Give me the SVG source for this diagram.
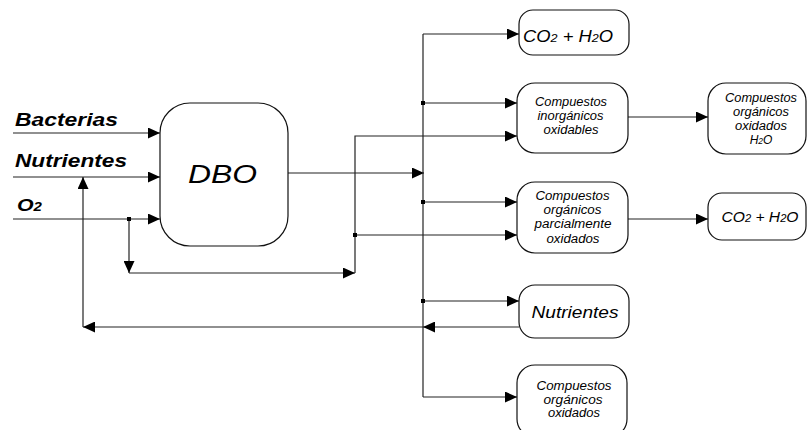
<svg xmlns="http://www.w3.org/2000/svg" width="807" height="430" viewBox="0 0 807 430">
  <style>
    .box { fill: #fff; stroke: #111; stroke-width: 1.2; }
    .ln { fill: none; stroke: #222; stroke-width: 1.2; }
    .arr { marker-end: url(#tip); }
    .t { font-family: "Liberation Sans", Arial, sans-serif; font-style: italic; fill: #000; text-anchor: middle; }
    .s { font-size: 12px; }
    .m { font-size: 16px; }
    .in { font-family: "Liberation Sans", Arial, sans-serif; font-style: italic; font-weight: bold; fill: #000; }
    .dot { fill: #000; }
  </style>
  <defs>
    <marker id="tip" markerUnits="userSpaceOnUse" markerWidth="12" markerHeight="11" refX="12" refY="5.5" orient="auto">
      <path d="M0,0 L12,5.5 L0,11 Z" fill="#000"/>
    </marker>
  </defs>

  <rect width="807" height="430" fill="#fff"/>

  <!-- connectors -->
  <g id="connectors">
    <!-- inputs into DBO -->
    <path class="ln arr" d="M13,133 H160"/>
    <path class="ln arr" d="M13,177 H160"/>
    <path class="ln arr" d="M13,219 H160"/>
    <!-- oxygen bypass -->
    <path class="ln arr" d="M129,219 V273"/>
    <path class="ln arr" d="M129,273 H355"/>
    <path class="ln arr" d="M355,273 V136 H517"/>
    <path class="ln arr" d="M355,235 H517"/>
    <!-- DBO output to distribution trunk -->
    <path class="ln arr" d="M288,173 H424"/>
    <path class="ln" d="M423,34 V397"/>
    <path class="ln arr" d="M423,34 H519"/>
    <path class="ln arr" d="M423,103 H517"/>
    <path class="ln arr" d="M423,202 H517"/>
    <path class="ln arr" d="M423,301 H519"/>
    <path class="ln arr" d="M423,397 H517"/>
    <!-- nutrient recycle -->
    <path class="ln arr" d="M519,327 H423"/>
    <path class="ln arr" d="M423,327 H83"/>
    <path class="ln arr" d="M83,327 V177"/>
    <!-- secondary oxidation -->
    <path class="ln arr" d="M628,117 H708"/>
    <path class="ln arr" d="M628,219 H708"/>
    <!-- junction dots -->
    <rect class="dot" x="127" y="217" width="4" height="4"/>
    <rect class="dot" x="421" y="101" width="4" height="4"/>
    <rect class="dot" x="421" y="200" width="4" height="4"/>
    <rect class="dot" x="353" y="233" width="4" height="4"/>
    <rect class="dot" x="421" y="299" width="4" height="4"/>
  </g>

  <!-- input labels -->
  <g id="inputs">
    <text class="in" x="15" y="126" font-size="18" textLength="103" lengthAdjust="spacingAndGlyphs">Bacterias</text>
    <text class="in" x="15" y="167" font-size="18.5" textLength="112" lengthAdjust="spacingAndGlyphs">Nutrientes</text>
    <text class="in" x="17" y="211" font-size="17" textLength="25" lengthAdjust="spacingAndGlyphs">O<tspan font-size="12">2</tspan></text>
  </g>

  <g id="n-dbo">
    <rect class="box" x="160" y="103" width="128" height="143" rx="30"/>
    <text class="t" x="222.5" y="183" font-size="26" textLength="69" lengthAdjust="spacingAndGlyphs">DBO</text>
  </g>

  <g id="n-co2-top">
    <rect class="box" x="519" y="10" width="110" height="45" rx="14"/>
    <text class="t m" x="568" y="42" textLength="90" lengthAdjust="spacingAndGlyphs">CO<tspan font-size="11">2</tspan> + H<tspan font-size="11">2</tspan>O</text>
  </g>

  <g id="n-inorganicos">
    <rect class="box" x="517" y="83" width="111" height="70" rx="18"/>
    <text class="t s" x="571" y="106" textLength="72" lengthAdjust="spacingAndGlyphs">Compuestos</text>
    <text class="t s" x="570.5" y="120" textLength="66" lengthAdjust="spacingAndGlyphs">inorgánicos</text>
    <text class="t s" x="571" y="133.5" textLength="55" lengthAdjust="spacingAndGlyphs">oxidables</text>
  </g>

  <g id="n-oxidados-h2o">
    <rect class="box" x="708" y="83" width="98" height="71" rx="18"/>
    <text class="t s" x="761" y="102" textLength="72" lengthAdjust="spacingAndGlyphs">Compuestos</text>
    <text class="t s" x="761" y="116" textLength="56" lengthAdjust="spacingAndGlyphs">orgánicos</text>
    <text class="t s" x="761" y="130" textLength="52" lengthAdjust="spacingAndGlyphs">oxidados</text>
    <text class="t s" x="761" y="144">H<tspan font-size="8.5">2</tspan>O</text>
  </g>

  <g id="n-parcial">
    <rect class="box" x="517" y="182" width="111" height="71" rx="18"/>
    <text class="t s" x="572.5" y="200" textLength="74" lengthAdjust="spacingAndGlyphs">Compuestos</text>
    <text class="t s" x="572.5" y="214" textLength="58" lengthAdjust="spacingAndGlyphs">orgánicos</text>
    <text class="t s" x="573" y="228" textLength="77" lengthAdjust="spacingAndGlyphs">parcialmente</text>
    <text class="t s" x="573" y="242.5" textLength="53" lengthAdjust="spacingAndGlyphs">oxidados</text>
  </g>

  <g id="n-co2-right">
    <rect class="box" x="708" y="193" width="98" height="47" rx="14"/>
    <text class="t" x="760" y="222" font-size="14" textLength="77" lengthAdjust="spacingAndGlyphs">CO<tspan font-size="10">2</tspan> + H<tspan font-size="10">2</tspan>O</text>
  </g>

  <g id="n-nutrientes">
    <rect class="box" x="519" y="285" width="110" height="53" rx="16"/>
    <text class="t m" x="575" y="318" textLength="87" lengthAdjust="spacingAndGlyphs">Nutrientes</text>
  </g>

  <g id="n-oxidados">
    <rect class="box" x="517" y="365" width="110" height="72" rx="18"/>
    <text class="t s" x="574" y="390" textLength="75" lengthAdjust="spacingAndGlyphs">Compuestos</text>
    <text class="t s" x="573" y="404" textLength="59" lengthAdjust="spacingAndGlyphs">orgánicos</text>
    <text class="t s" x="574" y="417" textLength="52" lengthAdjust="spacingAndGlyphs">oxidados</text>
  </g>
</svg>
